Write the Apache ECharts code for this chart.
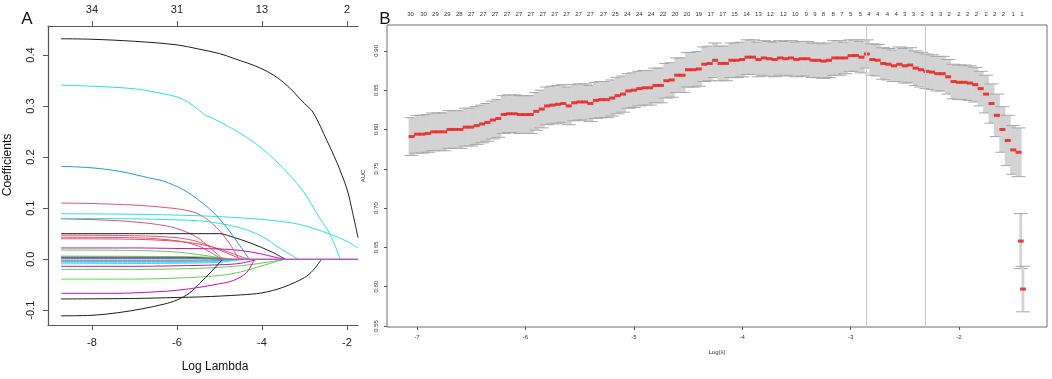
<!DOCTYPE html>
<html>
<head>
<meta charset="utf-8">
<script src="https://cdn.jsdelivr.net/npm/echarts@6/dist/echarts.min.js"></script>
<style>
html, body { margin: 0; padding: 0; background: #fff; }
#main { width: 1052px; height: 379px; }
</style>
</head>
<body>
<div id="main"></div>
<script>
var myChart = echarts.init(document.getElementById('main'));

// ---- Panel A: coefficient paths, points are [log lambda, coefficient] ----
var pathBlackTop = [[-8.73,0.432],[-8,0.431],[-7,0.427],[-6,0.42],[-5.5,0.412],[-5,0.403],[-4.68,0.394],[-4,0.373],[-3.5,0.347],[-3,0.305],[-2.8,0.288],[-2.47,0.232],[-2.24,0.19],[-2,0.137],[-1.87,0.092],[-1.74,0.042]];
var pathCyanTop = [[-8.73,0.341],[-8,0.339],[-7,0.334],[-6.5,0.327],[-5.93,0.316],[-5.6,0.3],[-5.35,0.283],[-5.15,0.276],[-4.52,0.247],[-4,0.217],[-3.5,0.178],[-3.03,0.133],[-2.64,0.08],[-2.4,0.049],[-2.16,0]];
var pathBlue = [[-8.73,0.182],[-8,0.179],[-7.34,0.172],[-6.64,0.159],[-6.32,0.153],[-5.85,0.136],[-5.46,0.114],[-5.15,0.092],[-4.83,0.062],[-4.55,0.03],[-4.3,0]];
var pathCyanLong = [[-8.73,0.089],[-7,0.088],[-5.46,0.085],[-4.5,0.081],[-3.89,0.077],[-3.11,0.068],[-2.4,0.049],[-2,0.035],[-1.74,0.022]];
var pathCyan2 = [[-8.73,0.08],[-7,0.079],[-6,0.077],[-5.46,0.075],[-4.8,0.067],[-4.28,0.055],[-3.9,0.04],[-3.65,0.025],[-3.35,0.01],[-3.15,0]];
var pathBlack05 = [[-8.73,0.05],[-7,0.05],[-6,0.05],[-5,0.05],[-4.75,0.045],[-4.28,0.032],[-3.74,0.013],[-3.46,0]];
var pathRed1 = [[-8.73,0.11],[-8,0.109],[-7,0.106],[-6.24,0.101],[-5.8,0.096],[-5.46,0.087],[-5.07,0.062],[-4.75,0.029],[-4.55,0]];
var pathRed2 = [[-8.73,0.079],[-7.8,0.077],[-7,0.073],[-6.24,0.065],[-5.8,0.054],[-5.46,0.039],[-5.15,0.017],[-4.92,0]];
var pathRed3 = [[-8.73,0.047],[-7,0.046],[-6,0.042],[-5.5,0.034],[-5,0.018],[-4.6,0.004],[-4.45,0]];
var pathRed4 = [[-8.73,0.043],[-7,0.042],[-6,0.036],[-5.5,0.026],[-5.2,0.013],[-4.95,0]];
var pathRed5 = [[-8.73,0.04],[-7,0.039],[-6,0.035],[-5.5,0.03],[-5,0.02],[-4.6,0.008],[-4.3,0]];
var pathMag1 = [[-8.73,0.022],[-7,0.022],[-6,0.021],[-5,0.02],[-4.5,0.017],[-4,0.01],[-3.7,0.004],[-3.45,0]];
var pathMagNeg = [[-8.73,-0.067],[-7.5,-0.067],[-6.5,-0.064],[-6,-0.061],[-5.46,-0.055],[-4.99,-0.048],[-4.68,-0.042],[-4.37,-0.027],[-4.21,-0.006],[-4.17,0]];
var pathMagSmall = [[-8.73,-0.014],[-7,-0.014],[-6,-0.013],[-5,-0.011],[-4.5,-0.008],[-4.1,0]];
var pathGreen1 = [[-8.73,0.018],[-7,0.017],[-6,0.014],[-5.5,0.009],[-5,0.003],[-4.8,0]];
var pathGreen2 = [[-8.73,-0.02],[-7,-0.02],[-6,-0.019],[-5,-0.016],[-4.3,-0.011],[-3.8,-0.005],[-3.45,0]];
var pathGreen3 = [[-8.73,-0.039],[-7,-0.039],[-6,-0.037],[-5,-0.032],[-4.5,-0.025],[-4,-0.013],[-3.6,-0.003],[-3.45,0]];
var pathBlackNeg = [[-8.73,-0.078],[-7,-0.077],[-6,-0.075],[-5.46,-0.074],[-4.5,-0.07],[-4,-0.066],[-3.5,-0.055],[-3,-0.036],[-2.8,-0.022],[-2.6,0]];
var pathBlackLow = [[-8.73,-0.111],[-8,-0.11],[-7.4,-0.105],[-6.8,-0.097],[-6.3,-0.088],[-6,-0.08],[-5.7,-0.066],[-5.46,-0.047],[-5.2,-0.025],[-4.92,0]];
var pathBlackSmall = [[-8.73,0.004],[-6,0.004],[-5.2,0.002],[-4.9,0]];
var pathBlueSmall = [[-8.73,-0.004],[-6,-0.004],[-5,-0.003],[-4.6,0]];
var pathCyanSmall = [[-8.73,-0.006],[-6,-0.006],[-5,-0.004],[-4.5,0]];
var pathGreenSmall = [[-8.73,0.006],[-6,0.005],[-5,0.003],[-4.7,0]];
var pathRedSmall = [[-8.73,-0.002],[-6,-0.002],[-5,-0.001],[-4.8,0]];
var pathMagSmall2 = [[-8.73,0.002],[-6,0.002],[-5,0.001],[-4.9,0]];
var pathBlueSmall2 = [[-8.73,0.001],[-5,0.001],[-4.85,0]];
var pathCyanSmall2 = [[-8.73,-0.009],[-6,-0.008],[-5,-0.006],[-4.4,0]];
var pathZero = [[-4.95,0],[-1.74,0]];

var tickAx = [-8, -6, -4, -2];
var tickAy = [-0.1, 0, 0.1, 0.2, 0.3, 0.4];
var topAAt = [-8, -6, -4, -2];
var topANz = ['34', '31', '13', '2'];

// ---- Panel B: cross-validated AUC ----
var lamB = [
  -7.05,-7,-6.95,-6.9,-6.85,-6.8,-6.75,-6.7,-6.65,-6.6,
  -6.55,-6.5,-6.45,-6.4,-6.35,-6.3,-6.25,-6.2,-6.15,-6.1,
  -6.05,-6,-5.95,-5.9,-5.85,-5.8,-5.75,-5.7,-5.65,-5.6,
  -5.55,-5.5,-5.45,-5.4,-5.35,-5.3,-5.25,-5.2,-5.15,-5.1,
  -5.05,-5,-4.95,-4.9,-4.85,-4.8,-4.75,-4.7,-4.65,-4.6,
  -4.55,-4.5,-4.45,-4.4,-4.35,-4.3,-4.25,-4.2,-4.15,-4.1,
  -4.05,-4,-3.95,-3.9,-3.85,-3.8,-3.75,-3.7,-3.65,-3.6,
  -3.55,-3.5,-3.45,-3.4,-3.35,-3.3,-3.25,-3.2,-3.15,-3.1,
  -3.05,-3,-2.95,-2.9,-2.85,-2.8,-2.75,-2.7,-2.65,-2.6,
  -2.55,-2.5,-2.45,-2.4,-2.35,-2.3,-2.25,-2.2,-2.15,-2.1,
  -2.05,-2,-1.95,-1.9,-1.85,-1.8,-1.75,-1.7,-1.65,-1.6,
  -1.55,-1.5,-1.45,-1.43,-1.41
];
var aucMean = [
  0.791,0.794,0.794,0.795,0.797,0.797,0.797,0.800,0.800,0.800,
  0.803,0.803,0.805,0.807,0.809,0.812,0.814,0.819,0.820,0.820,
  0.819,0.819,0.819,0.823,0.826,0.830,0.831,0.832,0.833,0.830,
  0.834,0.835,0.835,0.833,0.837,0.838,0.838,0.840,0.843,0.845,
  0.849,0.850,0.852,0.853,0.853,0.856,0.856,0.862,0.863,0.869,
  0.869,0.876,0.876,0.877,0.883,0.884,0.888,0.884,0.884,0.888,
  0.888,0.889,0.892,0.892,0.889,0.891,0.890,0.889,0.891,0.890,
  0.891,0.889,0.890,0.890,0.888,0.888,0.887,0.888,0.891,0.891,
  0.891,0.894,0.894,0.892,0.896,0.889,0.888,0.884,0.883,0.881,
  0.883,0.881,0.882,0.878,0.876,0.874,0.873,0.871,0.871,0.867,
  0.861,0.860,0.860,0.859,0.857,0.852,0.845,0.833,0.818,0.800,
  0.786,0.774,0.771,0.658,0.597
];
var aucSd = [
  0.024,0.024,0.024,0.024,0.024,0.024,0.024,0.024,0.024,0.024,
  0.024,0.024,0.024,0.024,0.024,0.024,0.024,0.024,0.024,0.024,
  0.024,0.024,0.024,0.024,0.024,0.024,0.024,0.024,0.024,0.024,
  0.023,0.023,0.023,0.023,0.023,0.023,0.023,0.023,0.023,0.023,
  0.022,0.022,0.022,0.022,0.022,0.022,0.022,0.022,0.022,0.022,
  0.022,0.022,0.022,0.022,0.022,0.022,0.022,0.022,0.022,0.022,
  0.022,0.022,0.022,0.022,0.022,0.022,0.022,0.022,0.022,0.022,
  0.022,0.022,0.022,0.022,0.022,0.022,0.022,0.022,0.022,0.022,
  0.020,0.020,0.020,0.020,0.018,0.020,0.020,0.020,0.020,0.020,
  0.022,0.022,0.022,0.022,0.022,0.022,0.022,0.022,0.022,0.022,
  0.022,0.022,0.022,0.022,0.022,0.022,0.024,0.025,0.027,0.029,
  0.032,0.031,0.031,0.035,0.029
];
var lamLines = [-2.86, -2.31];

var tickBx = [-7, -6, -5, -4, -3, -2];
var tickBy = [0.55, 0.6, 0.65, 0.7, 0.75, 0.8, 0.85, 0.9];
var topBAt = [
  -7.06,-6.94,-6.83,-6.72,-6.61,-6.50,-6.39,-6.28,-6.17,-6.06,
  -5.95,-5.84,-5.73,-5.62,-5.51,-5.40,-5.28,-5.17,-5.06,-4.95,
  -4.84,-4.73,-4.62,-4.51,-4.40,-4.29,-4.18,-4.07,-3.96,-3.85,
  -3.74,-3.62,-3.51,-3.41,-3.33,-3.25,-3.16,-3.08,-3.00,-2.91,
  -2.83,-2.75,-2.66,-2.58,-2.50,-2.42,-2.34,-2.25,-2.17,-2.09,
  -2.00,-1.92,-1.84,-1.75,-1.67,-1.59,-1.50,-1.42
];
var topBNz = [
  30,30,29,29,28,27,27,27,27,27,
  27,27,27,27,27,27,27,25,24,24,
  24,22,20,20,19,17,17,15,14,13,
  12,12,10,9,9,8,8,7,5,5,
  4,4,4,4,3,3,3,3,3,2,
  2,2,2,2,2,2,1,1
];

// ---- styles ----
var FONT = 'Liberation Sans';
var cBlack = '#1e1e1e', cRed = '#DF536B', cGreen = '#61D04F', cBlue = '#2297E6', cCyan = '#28E2E5', cMag = '#CD0BBC';

var pathsA = [
  pathBlackSmall, pathBlueSmall, pathCyanSmall, pathGreenSmall, pathRedSmall, pathMagSmall2, pathBlueSmall2, pathCyanSmall2,
  pathGreen1, pathGreen2, pathGreen3, pathRed3, pathRed4, pathRed5, pathMagSmall, pathMag1,
  pathRed1, pathRed2, pathCyan2, pathCyanLong, pathBlack05, pathBlackNeg, pathBlackLow, pathMagNeg,
  pathBlue, pathCyanTop, pathBlackTop, pathZero
];
var pathColors = [
  cBlack, cBlue, cCyan, cGreen, cRed, cMag, cBlue, cCyan,
  cGreen, cGreen, cGreen, cRed, cRed, cRed, cMag, cMag,
  cRed, cRed, cCyan, cCyan, cBlack, cBlack, cBlack, cMag,
  cBlue, cCyan, cBlack, '#b55bc5'
];

function pick(list, labels) {
  return function (v) {
    for (var i = 0; i < list.length; i++) {
      if (Math.abs(list[i] - v) < 1e-6) return String(labels[i]);
    }
    return '';
  };
}

var seriesList = [];
pathsA.forEach(function (p, i) {
  seriesList.push({
    type: 'line',
    xAxisIndex: 0,
    yAxisIndex: 0,
    data: p,
    smooth: 0.35,
    showSymbol: false,
    silent: true,
    lineStyle: { width: i === pathsA.length - 1 ? 1.6 : 1, color: pathColors[i] }
  });
});

// error bars (band + caps)
seriesList.push({
  type: 'custom',
  xAxisIndex: 2,
  yAxisIndex: 1,
  silent: true,
  data: lamB.map(function (l, i) { return [l, aucMean[i], aucSd[i]]; }),
  encode: { x: 0, y: 1 },
  renderItem: function (params, api) {
    var x = api.value(0), m = api.value(1), s = api.value(2);
    var top = api.coord([x, m + s]);
    var bot = api.coord([x, m - s]);
    var lone = params.dataIndex >= lamB.length - 2;
    var hw = lone ? 1.4 : 3;
    var cw = 7;
    return {
      type: 'group',
      children: [
        { type: 'rect', shape: { x: top[0] - hw, y: top[1], width: hw * 2, height: bot[1] - top[1] }, style: { fill: '#d3d3d3' } },
        { type: 'line', shape: { x1: top[0] - cw, y1: top[1], x2: top[0] + cw, y2: top[1] }, style: { stroke: '#a8a8a8', lineWidth: 1 } },
        { type: 'line', shape: { x1: bot[0] - cw, y1: bot[1], x2: bot[0] + cw, y2: bot[1] }, style: { stroke: '#a8a8a8', lineWidth: 1 } }
      ]
    };
  },
  markLine: {
    silent: true,
    symbol: 'none',
    label: { show: false },
    lineStyle: { color: '#c9c9c9', type: 'solid', width: 1 },
    data: lamLines.map(function (l) { return { xAxis: l }; })
  }
});

// mean AUC points
seriesList.push({
  type: 'scatter',
  xAxisIndex: 2,
  yAxisIndex: 1,
  silent: true,
  data: lamB.map(function (l, i) { return [l, aucMean[i]]; }),
  symbol: 'rect',
  symbolSize: [6, 3],
  itemStyle: { color: '#ee1111' }
});

var option = {
  animation: false,
  backgroundColor: '#ffffff',
  grid: [
    { left: 48, top: 26, width: 310, height: 299 },
    { left: 387, top: 25, width: 660, height: 302, show: true, borderColor: '#6e6e6e', borderWidth: 1 }
  ],
  xAxis: [
    {
      type: 'value', gridIndex: 0, position: 'bottom', min: -9.035, max: -1.741,
      axisLine: { show: true, onZero: false, lineStyle: { color: '#555', width: 1.2 } },
      axisTick: { show: true, customValues: tickAx, length: 5, lineStyle: { color: '#555' } },
      axisLabel: { customValues: tickAx, margin: 12, fontSize: 11, fontFamily: FONT, color: '#222', formatter: function (v) { return String(v); } },
      splitLine: { show: false }
    },
    {
      type: 'value', gridIndex: 0, position: 'top', min: -9.035, max: -1.741,
      axisLine: { show: true, onZero: false, lineStyle: { color: '#555', width: 1.2 } },
      axisTick: { show: true, customValues: topAAt, length: 5, lineStyle: { color: '#555' } },
      axisLabel: { customValues: topAAt, margin: 11, fontSize: 11, fontFamily: FONT, color: '#222', formatter: pick(topAAt, topANz) },
      splitLine: { show: false }
    },
    {
      type: 'value', gridIndex: 1, position: 'bottom', min: -7.277, max: -1.188,
      axisLine: { show: false },
      axisTick: { show: true, customValues: tickBx, length: 3, lineStyle: { color: '#555' } },
      axisLabel: { customValues: tickBx, margin: 7, fontSize: 6, fontFamily: FONT, color: '#333', formatter: function (v) { return String(v); } },
      splitLine: { show: false }
    },
    {
      type: 'value', gridIndex: 1, position: 'top', min: -7.277, max: -1.188,
      axisLine: { show: false },
      axisTick: { show: false },
      axisLabel: { customValues: topBAt, margin: 8, fontSize: 6, fontFamily: FONT, color: '#333', formatter: pick(topBAt, topBNz) },
      splitLine: { show: false }
    }
  ],
  yAxis: [
    {
      type: 'value', gridIndex: 0, min: -0.129, max: 0.457,
      axisLine: { show: true, onZero: false, lineStyle: { color: '#555', width: 1.2 } },
      axisTick: { show: true, customValues: tickAy, length: 5, lineStyle: { color: '#555' } },
      axisLabel: { customValues: tickAy, rotate: 90, margin: 12, fontSize: 11, fontFamily: FONT, color: '#222', formatter: function (v) { return v.toFixed(1); } },
      splitLine: { show: false }
    },
    {
      type: 'value', gridIndex: 1, min: 0.5487, max: 0.9329,
      axisLine: { show: false },
      axisTick: { show: true, customValues: tickBy, length: 3, lineStyle: { color: '#555' } },
      axisLabel: { customValues: tickBy, rotate: 90, margin: 8, fontSize: 6, fontFamily: FONT, color: '#333', formatter: function (v) { return v.toFixed(2); } },
      splitLine: { show: false }
    }
  ],
  graphic: [
    { type: 'text', x: 27, y: 19, style: { text: 'A', fontSize: 17, fontFamily: FONT, fill: '#111', align: 'center', verticalAlign: 'middle' } },
    { type: 'text', x: 8, y: 165, rotation: Math.PI / 2, style: { text: 'Coefficients', fontSize: 12, fontFamily: FONT, fill: '#111', align: 'center', verticalAlign: 'middle' } },
    { type: 'text', x: 215, y: 367, style: { text: 'Log Lambda', fontSize: 12, fontFamily: FONT, fill: '#111', align: 'center', verticalAlign: 'middle' } },
    { type: 'text', x: 385, y: 19, style: { text: 'B', fontSize: 17, fontFamily: FONT, fill: '#111', align: 'center', verticalAlign: 'middle' } },
    { type: 'text', x: 363, y: 176, rotation: Math.PI / 2, style: { text: 'AUC', fontSize: 6, fontFamily: FONT, fill: '#333', align: 'center', verticalAlign: 'middle' } },
    { type: 'text', x: 717, y: 352, style: { text: 'Log(λ)', fontSize: 6, fontFamily: FONT, fill: '#333', align: 'center', verticalAlign: 'middle' } }
  ],
  series: seriesList
};

option && myChart.setOption(option);
</script>
</body>
</html>
